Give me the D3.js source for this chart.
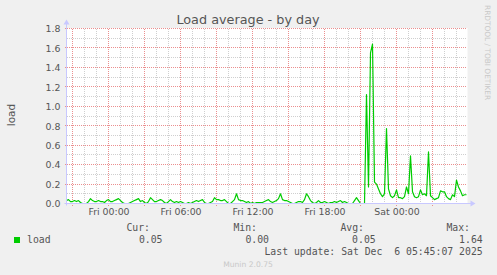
<!DOCTYPE html>
<html>
<head>
<meta charset="utf-8">
<script src="https://cdn.jsdelivr.net/npm/d3@7"></script>
<style>
  body { margin: 0; background: #f0f0f0; }
  svg { display: block; }
  .grid line { shape-rendering: crispEdges; }
</style>
</head>
<body>
<div id="chart"></div>
<script>
// data: load average, one sample every 10 minutes from Thu 20:30
const startTime = new Date(2025, 11, 4, 20, 30);
const stepMinutes = 10;
const loadValues = [
  0.03,0.04,0.02,0.02,0.03,0.02,0.03,0.01,0.00,0.00,0.00,0.02,0.05,0.03,0.02,0.02,0.03,
  0.02,0.02,0.01,0.03,0.04,0.02,0.02,0.03,0.04,0.05,0.03,0.01,0.00,0.00,0.00,0.01,0.02,
  0.03,0.04,0.05,0.02,0.03,0.01,0.00,0.02,0.06,0.04,0.02,0.02,0.03,0.04,0.03,0.01,0.00,
  0.02,0.04,0.02,0.01,0.02,0.01,0.02,0.01,0.00,0.00,0.01,0.00,0.01,0.02,0.03,0.02,0.03,
  0.04,0.01,0.00,0.00,0.01,0.02,0.06,0.04,0.04,0.03,0.03,0.04,0.02,0.00,0.00,0.02,0.04,
  0.10,0.04,0.03,0.03,0.02,0.01,0.02,0.00,0.01,0.00,0.01,0.01,0.01,0.01,0.02,0.03,0.04,
  0.02,0.01,0.02,0.03,0.05,0.10,0.04,0.03,0.03,0.02,0.01,0.00,0.00,0.01,0.02,0.02,0.01,
  0.04,0.10,0.07,0.03,0.01,0.00,0.01,0.03,0.01,0.01,0.02,0.01,0.00,0.01,0.01,0.02,0.01,
  0.02,0.03,0.01,0.02,0.01,0.00,0.00,0.00,0.03,0.06,0.03,0.00,0.00,0.00,1.12,0.17,1.55,
  1.64,0.22,0.20,0.15,0.10,0.07,0.10,0.77,0.15,0.08,0.06,0.08,0.14,0.06,0.06,0.05,0.07,
  0.17,0.10,0.49,0.12,0.07,0.06,0.07,0.14,0.09,0.10,0.08,0.53,0.08,0.06,0.04,0.05,0.06,
  0.13,0.12,0.12,0.07,0.05,0.04,0.09,0.07,0.24,0.17,0.13,0.08,0.09,0.09
];
const yTicks = [0, 0.2, 0.4, 0.6, 0.8, 1.0, 1.2, 1.4, 1.6, 1.8];
const legendHeads = ["Cur:", "Min:", "Avg:", "Max:"];
const legendValues = ["0.05", "0.00", "0.05", "1.64"];
const lastUpdate = "Last update: Sat Dec  6 05:45:07 2025";

const points = loadValues.map((v, i) => {
  return {date: new Date(startTime.getTime() + i * stepMinutes * 60000), value: v};
});

const width = 497, height = 275;
const plot = {left: 66.5, right: 466.5, top: 28.5, bottom: 203.5};

const svg = d3.select("#chart").append("svg")
  .attr("width", width).attr("height", height)
  .style("background", "#f0f0f0");

let x = d3.scaleTime()
  .domain([startTime, points[points.length - 1].date])
  .range([plot.left, plot.right]);
let y = d3.scaleLinear().domain([0, 1.8]).range([plot.bottom, plot.top]);

// white canvas
svg.append("rect")
  .attr("x", plot.left).attr("y", plot.top - 0.5)
  .attr("width", plot.right - plot.left + 1).attr("height", plot.bottom - plot.top + 0.5)
  .attr("fill", "#ffffff");

const snapY = (d) => Math.round(y(d) - 0.5) + 0.5;
const snapX = (d) => Math.round(x(d) - 0.5) + 0.5;

// minor grid (skip the spots where a major line goes)
const minorY = d3.range(1, 18, 2).map((d) => d / 10);
const minorX = x.ticks(d3.timeHour.every(1)).filter((d) => d.getHours() % 3 !== 0);
let grid = svg.append("g").attr("class", "grid");
grid.append("g").selectAll("line").data(minorY).enter().append("line")
  .attr("x1", plot.left).attr("x2", plot.right)
  .attr("y1", snapY).attr("y2", snapY)
  .attr("stroke", "#cfcfcf").attr("stroke-dasharray", "1,1");
grid.append("g").selectAll("line").data(minorX).enter().append("line")
  .attr("x1", snapX).attr("x2", snapX)
  .attr("y1", plot.top).attr("y2", plot.bottom)
  .attr("stroke", "#cfcfcf").attr("stroke-dasharray", "1,1");

// major grid
grid.append("g").selectAll("line").data(yTicks).enter().append("line")
  .attr("x1", plot.left - 2).attr("x2", plot.right)
  .attr("y1", snapY).attr("y2", snapY)
  .attr("stroke", "#eb8f8f").attr("stroke-dasharray", "1,1");
grid.append("g").selectAll("line").data(x.ticks(d3.timeHour.every(3))).enter().append("line")
  .attr("x1", snapX).attr("x2", snapX)
  .attr("y1", plot.top).attr("y2", plot.bottom + 2)
  .attr("stroke", "#eb8f8f").attr("stroke-dasharray", "1,1");

// the load line
let plotLine = d3.line()
  .x((d) => x(d.date))
  .y((d) => y(d.value));
svg.append("path")
  .datum(points)
  .attr("d", plotLine)
  .attr("fill", "none")
  .attr("stroke", "#00cc00")
  .attr("stroke-width", 1.2)
  .attr("stroke-linejoin", "round");

// axis lines with arrows
const axisColor = "#c8c8ff";
svg.append("line").attr("x1", plot.left).attr("x2", plot.left)
  .attr("y1", plot.bottom + 2).attr("y2", plot.top - 5)
  .attr("stroke", axisColor);
svg.append("path")
  .attr("d", `M${plot.left - 3},${plot.top - 4}L${plot.left + 3},${plot.top - 4}L${plot.left},${plot.top - 9}Z`)
  .attr("fill", axisColor);
svg.append("line").attr("x1", plot.left - 2).attr("x2", plot.right + 5)
  .attr("y1", plot.bottom).attr("y2", plot.bottom)
  .attr("stroke", axisColor);
svg.append("path")
  .attr("d", `M${plot.right + 4},${plot.bottom - 3}L${plot.right + 4},${plot.bottom + 3}L${plot.right + 9},${plot.bottom}Z`)
  .attr("fill", axisColor);

// axes labels
let yAxis = d3.axisLeft(y).tickValues(yTicks).tickFormat(d3.format(".1f")).tickSize(0).tickPadding(6);
let yg = svg.append("g").attr("transform", `translate(${plot.left},0)`).call(yAxis);
let xAxis = d3.axisBottom(x).ticks(d3.timeHour.every(6)).tickFormat(d3.timeFormat("%a %H:%M")).tickSize(0).tickPadding(5);
let xg = svg.append("g").attr("transform", `translate(0,${plot.bottom})`).call(xAxis);
[yg, xg].forEach((g) => {
  g.select(".domain").remove();
  g.selectAll("text")
    .attr("fill", "#555")
    .style("font-family", "DejaVu Sans")
    .style("font-size", "9.4px");
});
yg.selectAll("text").attr("dy", "0.35em");

// title etc
svg.append("text").attr("x", 248).attr("y", 24)
  .attr("text-anchor", "middle").attr("fill", "#555")
  .style("font-family", "DejaVu Sans").style("font-size", "12.8px")
  .text("Load average - by day");
svg.append("text")
  .attr("transform", "translate(15,115) rotate(-90)")
  .attr("text-anchor", "middle").attr("fill", "#555")
  .style("font-family", "DejaVu Sans").style("font-size", "10.5px")
  .text("load");
svg.append("text")
  .attr("transform", "translate(485,5) rotate(90)")
  .attr("fill", "#c8c8c8")
  .style("font-family", "DejaVu Sans").style("font-size", "7.4px")
  .text("RRDTOOL / TOBI OETIKER");

// legend
const mono = {family: "DejaVu Sans Mono", size: "9.8px"};
svg.append("rect").attr("x", 14).attr("y", 237).attr("width", 6).attr("height", 6).attr("fill", "#00cc00");
svg.append("text").attr("x", 27).attr("y", 243)
  .attr("fill", "#555").style("font-family", mono.family).style("font-size", mono.size)
  .text("load");
const headEnds = [150, 257, 364, 470];
const valueEnds = [162.5, 269, 375.7, 482.7];
svg.append("g").selectAll("text").data(legendHeads).enter().append("text")
  .attr("x", (d, i) => headEnds[i]).attr("y", 231)
  .attr("text-anchor", "end").attr("fill", "#555")
  .style("font-family", mono.family).style("font-size", mono.size)
  .text((d) => d);
svg.append("g").selectAll("text").data(legendValues).enter().append("text")
  .attr("x", (d, i) => valueEnds[i]).attr("y", 243)
  .attr("text-anchor", "end").attr("fill", "#555")
  .style("font-family", mono.family).style("font-size", mono.size)
  .text((d) => d);
svg.append("text").attr("x", 482.7).attr("y", 255)
  .attr("text-anchor", "end").attr("fill", "#555")
  .style("font-family", mono.family).style("font-size", mono.size)
  .style("white-space", "pre").attr("xml:space", "preserve")
  .text(lastUpdate);
svg.append("text").attr("x", 248).attr("y", 267)
  .attr("text-anchor", "middle").attr("fill", "#c8c8c8")
  .style("font-family", "DejaVu Sans").style("font-size", "7.6px")
  .text("Munin 2.0.75");
</script>
</body>
</html>
